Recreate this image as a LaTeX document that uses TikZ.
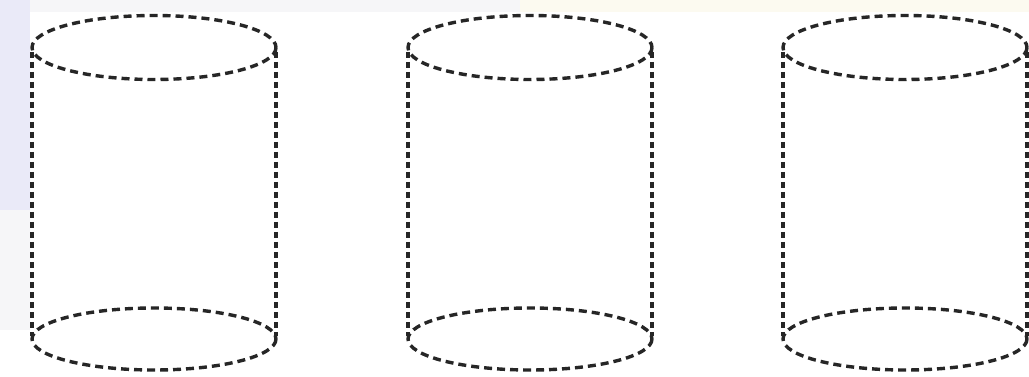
\documentclass[tikz,border=0pt]{standalone}
\definecolor{paleblue}{RGB}{234,234,248}
\definecolor{palegrey}{RGB}{246,246,248}
\definecolor{paleyel}{RGB}{252,250,240}
\begin{document}
\begin{tikzpicture}[x=1pt,y=-1pt,
  dline/.style={draw=black!85,line width=3.4pt,dash pattern=on 8pt off 5pt,line cap=butt},
  vline/.style={draw=black!85,line width=3.4pt,dash pattern=on 6pt off 4pt,line cap=butt}]
\useasboundingbox[fill=white] (0,0) rectangle (1029,377);
\fill[palegrey] (0,0) rectangle (520,12);
\fill[paleyel] (520,0) rectangle (1029,12);
\fill[paleblue] (0,0) rectangle (30,210);
\fill[palegrey] (0,210) rectangle (30,330);
\foreach \cx/\n in {154/a,530/b,905/c}{
  \draw[dline] (\cx,47.5) ellipse [x radius=122,y radius=32];
  \draw[dline] (\cx,339) ellipse [x radius=122,y radius=31];
  \draw[vline] (\cx-122,52) -- (\cx-122,336);
  \draw[vline] (\cx+122,52) -- (\cx+122,336);
}
\end{tikzpicture}
\end{document}
